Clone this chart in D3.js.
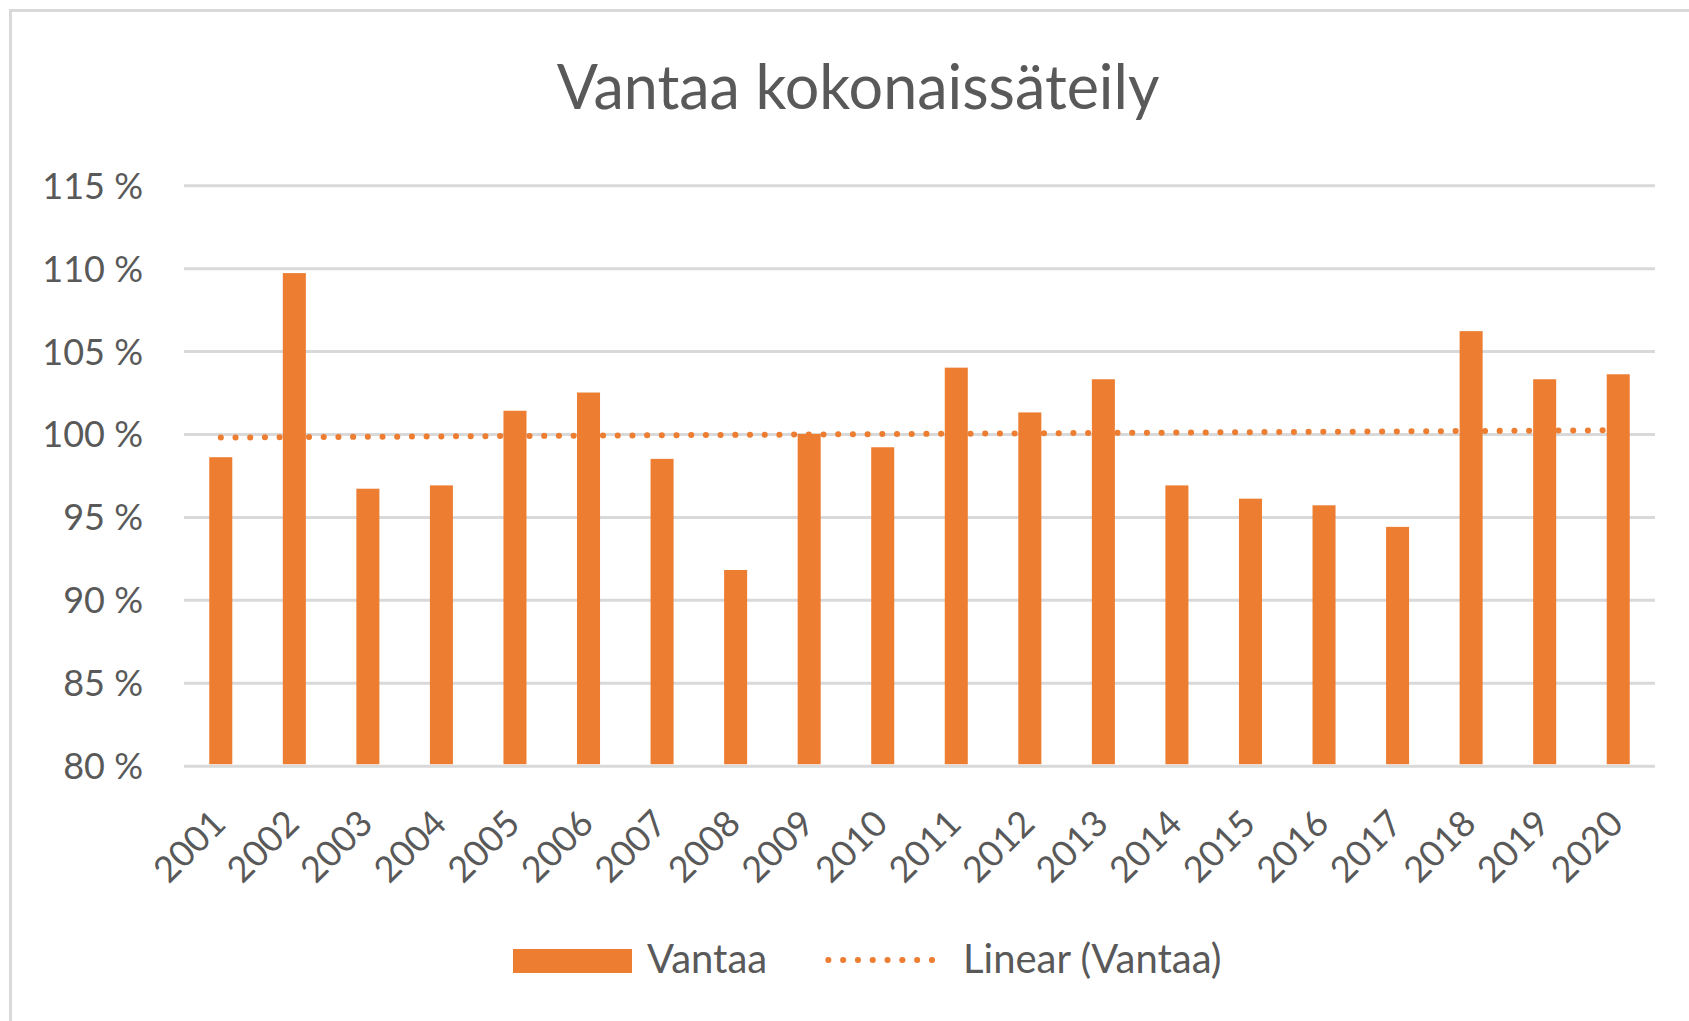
<!DOCTYPE html>
<html>
<head>
<meta charset="utf-8">
<script src="https://cdn.jsdelivr.net/npm/d3@7"></script>
<style>
    body { margin: 0; background: #fff; }
    svg { display: block; font-family: Lato, "Open Sans", sans-serif; }
</style>
</head>
<body>
<div id="chart"></div>
<script>
const years = ["2001", "2002", "2003", "2004", "2005", "2006", "2007", "2008", "2009", "2010",
    "2011", "2012", "2013", "2014", "2015", "2016", "2017", "2018", "2019", "2020"];
const values = [98.6, 109.7, 96.7, 96.9, 101.4, 102.5, 98.5, 91.8, 100.0, 99.2,
    104.0, 101.3, 103.3, 96.9, 96.1, 95.7, 94.4, 106.2, 103.3, 103.6];
const yTicks = [80, 85, 90, 95, 100, 105, 110, 115];
const seriesName = "Vantaa";
const trendName = "Linear (Vantaa)";
const title = "Vantaa kokonaissäteily";

const width = 1689, height = 1021;
const margin = {top: 185.2, right: 34, bottom: 255.3, left: 184};
const orange = "#ED7D31", grid = "#D9D9D9", textColor = "#595959";
const font = "Lato, 'Open Sans', sans-serif";

const data = years.map((d, i) => ({year: d, value: values[i]}));

const svg = d3.select("#chart").append("svg")
    .attr("width", width)
    .attr("height", height);

// chart border
svg.append("rect")
    .attr("x", 10.5).attr("y", 10.5)
    .attr("width", width + 20).attr("height", height + 20)
    .attr("fill", "none")
    .attr("stroke", grid)
    .attr("stroke-width", 3);

const x = d3.scaleBand()
    .domain(years)
    .range([margin.left, width - margin.right]);
const y = d3.scaleLinear()
    .domain([80, 115])
    .range([height - margin.bottom, margin.top]);

// y axis + gridlines
const yAxis = svg.append("g")
    .attr("transform", `translate(${margin.left},0)`)
    .call(d3.axisLeft(y)
        .tickValues(yTicks)
        .tickSize(-(width - margin.left - margin.right))
        .tickPadding(41)
        .tickFormat(d => d + " %"))
    .attr("font-family", font);
yAxis.select(".domain").remove();
yAxis.selectAll(".tick line")
    .attr("stroke", grid)
    .attr("stroke-width", 3);
yAxis.selectAll(".tick text")
    .attr("fill", textColor)
    .attr("font-size", 36)
    .attr("dy", "0.36em");

// x axis labels
const xAxis = svg.append("g")
    .attr("transform", `translate(0,${height - margin.bottom})`)
    .call(d3.axisBottom(x).tickSize(0))
    .attr("font-family", font);
xAxis.select(".domain").remove();
xAxis.selectAll(".tick text")
    .attr("fill", textColor)
    .attr("font-size", 36)
    .attr("text-anchor", "end")
    .attr("y", 0).attr("dy", 0)
    .attr("transform", "translate(7,60) rotate(-45)");

// linear trendline (least squares on category index)
const n = values.length;
const xs = d3.range(1, n + 1);
const mx = d3.mean(xs), my = d3.mean(values);
const slope = d3.sum(xs, (xi, i) => (xi - mx) * (values[i] - my)) / d3.sum(xs, xi => (xi - mx) ** 2);
const intercept = my - slope * mx;
const trend = years.map((d, i) => ({year: d, value: intercept + slope * (i + 1)}));

svg.append("path")
    .datum(trend)
    .attr("fill", "none")
    .attr("stroke", orange)
    .attr("stroke-width", 6)
    .attr("stroke-linecap", "round")
    .attr("stroke-dasharray", "0.1 14.6")
    .attr("d", d3.line()
        .x(d => x(d.year) + x.bandwidth() / 2)
        .y(d => y(d.value)));

// bars
const barW = x.bandwidth() * 0.313;
svg.append("g")
    .selectAll("rect")
    .data(data)
    .join("rect")
    .attr("x", d => x(d.year) + (x.bandwidth() - barW) / 2)
    .attr("y", d => y(d.value))
    .attr("width", barW)
    .attr("height", d => y(80) - y(d.value) - 1.5)
    .attr("fill", orange);

// title
svg.append("text")
    .attr("x", 858)
    .attr("y", 109)
    .attr("text-anchor", "middle")
    .attr("fill", textColor)
    .attr("font-size", 61)
    .text(title);

// legend
const legend = svg.append("g");
legend.append("rect")
    .attr("x", 513).attr("y", 949)
    .attr("width", 119).attr("height", 24)
    .attr("fill", orange);
legend.append("text")
    .attr("x", 647).attr("y", 972.7)
    .attr("fill", textColor)
    .attr("font-size", 40)
    .text(seriesName);
legend.append("line")
    .attr("x1", 828.3).attr("x2", 946.5)
    .attr("y1", 960).attr("y2", 960)
    .attr("stroke", orange)
    .attr("stroke-width", 6)
    .attr("stroke-linecap", "round")
    .attr("stroke-dasharray", "0.1 14.7");
legend.append("text")
    .attr("x", 963).attr("y", 972.7)
    .attr("fill", textColor)
    .attr("font-size", 40)
    .text(trendName);
</script>
</body>
</html>
